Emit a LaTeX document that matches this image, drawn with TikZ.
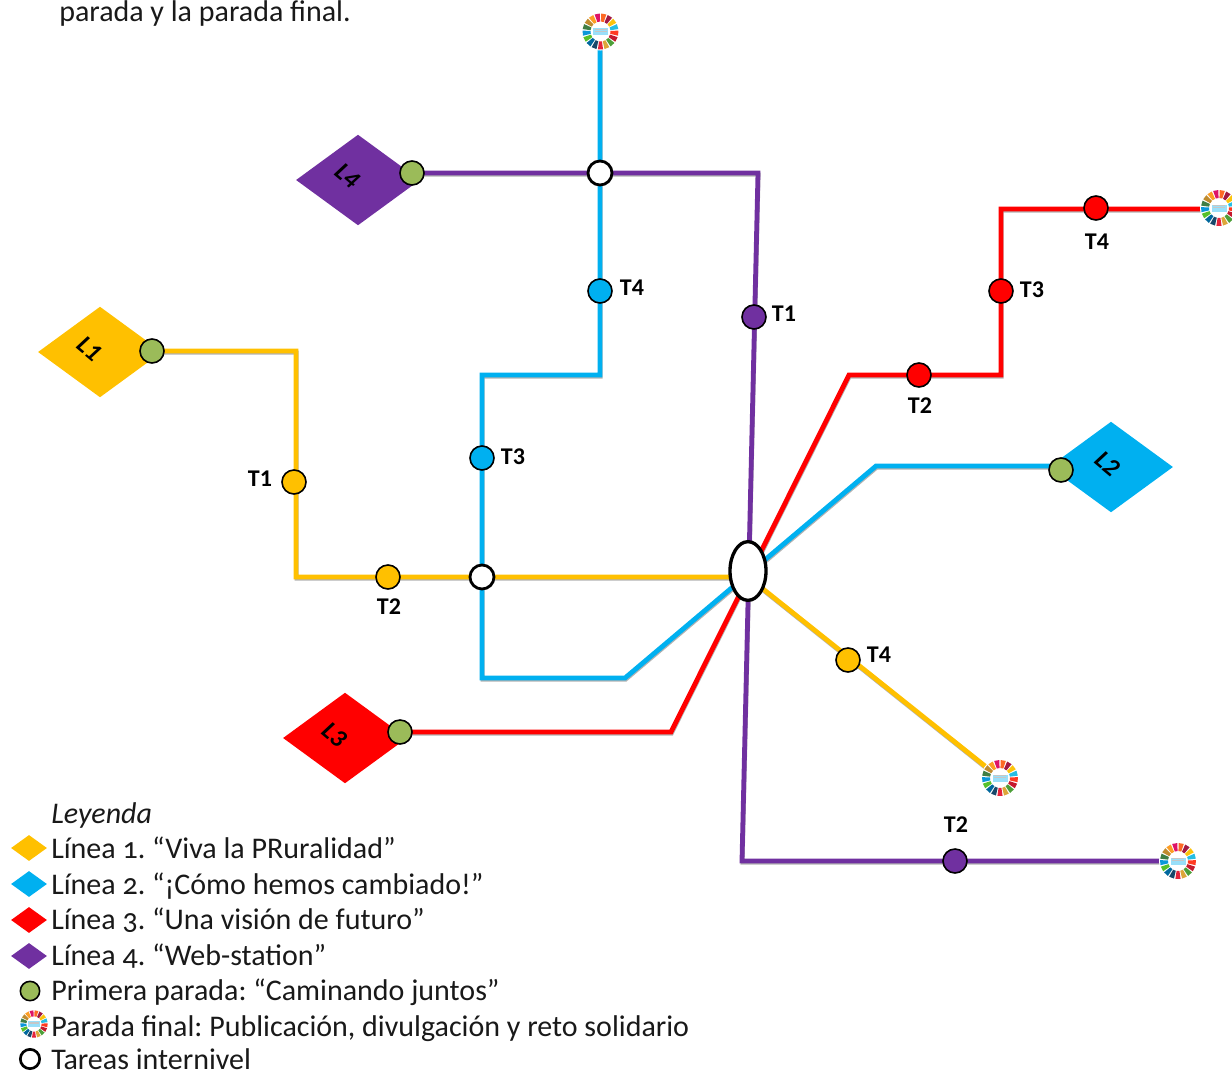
\documentclass[tikz,border=0pt]{standalone}
\usepackage{fontspec}
\setmainfont[Numbers=OldStyle]{Carlito}
\newfontfamily\labfont[Numbers=Lining]{Carlito}
\frenchspacing
\usetikzlibrary{shapes.geometric}
\pgfdeclarelayer{lines}
\pgfsetlayers{lines,main}
\definecolor{yel}{HTML}{FFC000}
\definecolor{cy}{HTML}{00B0F0}
\definecolor{rd}{HTML}{FF0000}
\definecolor{pur}{HTML}{7030A0}
\definecolor{grn}{HTML}{9BBB59}
\newcommand{\sdgwheel}[2]{%
 \begin{scope}[shift={(#1)},scale=#2]
 \fill[white] (0,0) circle (19);
 \foreach \c [count=\i from 0] in {E5243B,DDA63A,4C9F38,C5192D,FF3A21,26BDE2,FCC30B,A21942,FD6925,DD1367,FD9D24,BF8B2E,3F7E44,0A97D9,56C02B,00689D,19486A}{
  \definecolor{wc}{HTML}{\c}
  \pgfmathsetmacro\aa{90-\i*360/17+8.2}
  \pgfmathsetmacro\ab{90-\i*360/17-8.2}
  \fill[wc] (\aa:18) arc[start angle=\aa,end angle=\ab,radius=18] -- (\ab:10) arc[start angle=\ab,end angle=\aa,radius=10] -- cycle;
 }
 \fill[cy!40] (-7.5,-3.5) rectangle (7.5,3.5);
 \fill[gray!45] (-6,-1) rectangle (6,-0.2);
 \fill[gray!45] (-6,-3) rectangle (6,-2.2);
 \end{scope}}
\tikzset{
 line/.style={line width=3.6pt,draw=#1,
   preaction={draw=black!30,line width=3pt,transform canvas={xshift=0.4pt,yshift=-1.3pt}}},
 stopn/.style={circle,draw=black,line width=1.2pt,fill=#1,minimum size=18pt,inner sep=0pt},
 lab/.style={font=\labfont\bfseries\fontsize{18}{18}\selectfont,text=black,inner sep=0pt},
 dia/.style={diamond,fill=#1,inner sep=0pt,minimum width=93pt,minimum height=68pt,aspect=1.36},
 dial/.style={font=\labfont\bfseries\itshape\fontsize{19}{19}\selectfont,rotate=-40,inner sep=0pt},
 inter/.style={circle,draw=black,line width=2.1pt,fill=white,minimum size=18pt,inner sep=0pt},
 leg/.style={font=\fontsize{22.5}{24}\selectfont,anchor=base west,inner sep=0pt,text=black!90},
 legd/.style={diamond,fill=#1,inner sep=0pt,minimum width=27pt,minimum height=19.5pt,aspect=1.4},
}
\begin{document}
\begin{tikzpicture}[x=0.75pt,y=-0.75pt]
\useasboundingbox (0,0) rectangle (1232,1072);
\clip (0,0) rectangle (1232,1072);
\node[leg] (top) at (59,21) {parada y la parada final.};
% waypoints
\coordinate (w1a) at (296,352);\coordinate (w1b) at (296,577);
\coordinate (w1e) at (1000,778);
\coordinate (c2a) at (600,32);\coordinate (c2b) at (600,375);\coordinate (c2c) at (482,375);\coordinate (c2d) at (482,678);\coordinate (c2e) at (625,678);\coordinate (c2f) at (876,466);
\coordinate (c3a) at (671,732);\coordinate (c3b) at (849,375);\coordinate (c3c) at (1001,375);\coordinate (c3d) at (1001,209);\coordinate (c3e) at (1216,209);
\coordinate (c4a) at (758,173);\coordinate (c4b) at (742,861);\coordinate (c4c) at (1178,861);
% diamonds
\node[dia=yel] (L1) at (100,352) {};
\node[dia=cy] (L2) at (1111,467) {};
\node[dia=rd] (L3) at (345,738) {};
\node[dia=pur] (L4) at (358,180) {};
\node[dial] (L1t) at (90,349) {L1};
\node[dial] (L2t) at (1108,464) {L2};
\node[dial] (L3t) at (335,735) {L3};
\node[dial] (L4t) at (348,176) {L4};
% hub + interchange
\node[ellipse,draw=black,line width=2.5pt,fill=white,minimum width=27pt,minimum height=44pt,inner sep=0pt] (hub) at (748,571) {};
\node[inter] (i1) at (600,173) {};
\node[inter] (i2) at (482,577) {};
% first stops
\node[stopn=grn] (g1) at (152,351) {};
\node[stopn=grn] (g2) at (1061,470) {};
\node[stopn=grn] (g3) at (400,732) {};
\node[stopn=grn] (g4) at (412,173) {};
% task stops
\node[stopn=yel] (y1) at (294,482) {}; \node[lab] (y1t) at (260,479) {T1};
\node[stopn=yel] (y2) at (388,577) {}; \node[lab] (y2t) at (389,607) {T2};
\node[stopn=yel] (y4) at (848,660) {}; \node[lab] (y4t) at (879,655) {T4};
\node[stopn=cy] (b3) at (482,458) {}; \node[lab] (b3t) at (513,457) {T3};
\node[stopn=cy] (b4) at (600,291) {}; \node[lab] (b4t) at (632,288) {T4};
\node[stopn=rd] (r2) at (919,375) {}; \node[lab] (r2t) at (920,406) {T2};
\node[stopn=rd] (r3) at (1001,291) {}; \node[lab] (r3t) at (1032,290) {T3};
\node[stopn=rd] (r4) at (1096,208) {}; \node[lab] (r4t) at (1097,242) {T4};
\node[stopn=pur] (p1) at (754,317) {}; \node[lab] (p1t) at (784,314) {T1};
\node[stopn=pur] (p2) at (955,861) {}; \node[lab] (p2t) at (956,825) {T2};
% lines
\begin{pgfonlayer}{lines}
\draw[line=cy] (c2a) -- (c2b) -- (c2c) -- (c2d) -- (c2e) -- (c2f) -- (g2 |- c2f);
\draw[line=pur] (g4.center) -- (c4a) -- (c4b) -- (c4c);
\draw[line=rd] (g3.center) -- (c3a) -- (c3b) -- (c3c) -- (c3d) -- (c3e);
\draw[line=yel] (g1.center) -- (g1 -| w1a) -- (w1b) -- (hub.center |- w1b) -- (w1e);
\end{pgfonlayer}
% wheels
\sdgwheel{600.5,31.5}{1}
\sdgwheel{1000,778}{1}
\sdgwheel{1178,861}{1}
\sdgwheel{1219,208}{1}
% legend
\node[leg,font=\itshape\fontsize{22.5}{24}\selectfont] (lg0) at (51,823) {Leyenda};
\node[legd=yel] (d1) at (29,848) {};
\node[legd=cy] (d2) at (29,884) {};
\node[legd=rd] (d3) at (29,920) {};
\node[legd=pur] (d4) at (29,956) {};
\node[leg] (t1) at (51,858) {Línea 1. “Viva la PRuralidad”};
\node[leg] (t2) at (51,894) {Línea 2. “¡Cómo hemos cambiado!”};
\node[leg] (t3) at (51,929) {Línea 3. “Una visión de futuro”};
\node[leg] (t4) at (51,965) {Línea 4. “Web-station”};
\node[stopn=grn,minimum size=14.5pt] (lg) at (30,991) {};
\node[leg] (t5) at (51,1000) {Primera parada: “Caminando juntos”};
\sdgwheel{34,1024}{0.76}
\node[leg] (t6) at (51,1036) {Parada final: Publicación, divulgación y reto solidario};
\node[circle,draw=black,line width=2pt,fill=white,minimum size=14.5pt,inner sep=0pt] (lo) at (30,1059) {};
\node[leg] (t7) at (51,1069) {Tareas internivel};
\end{tikzpicture}
\end{document}
